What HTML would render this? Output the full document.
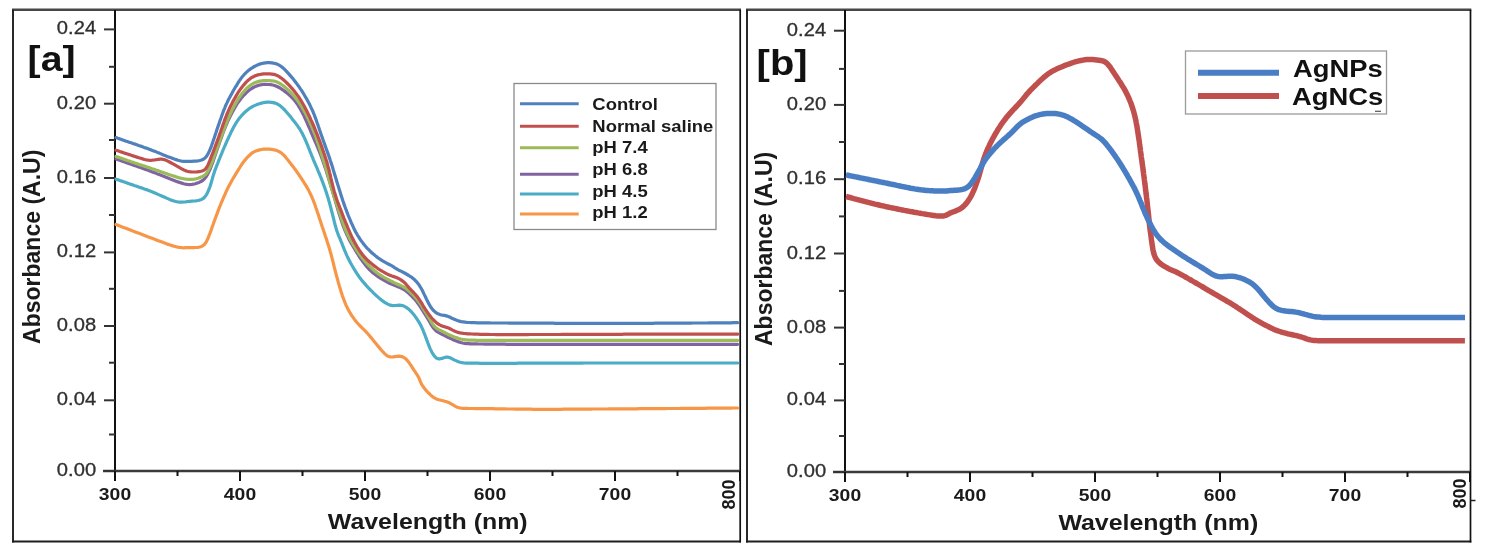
<!DOCTYPE html><html><head><meta charset="utf-8"><style>html,body{margin:0;padding:0;background:#fff;}svg{display:block;filter:blur(0.35px);}text{font-family:"Liberation Sans", sans-serif;}</style></head><body>
<svg width="1485" height="556" viewBox="0 0 1485 556">
<rect x="0" y="0" width="1485" height="556" fill="#fff"/>
<line x1="12.0" y1="9.7" x2="741.0" y2="9.7" stroke="#474747" stroke-width="2.4"/>
<line x1="12.0" y1="541.5" x2="741.0" y2="541.5" stroke="#1e1e1e" stroke-width="2"/>
<line x1="13.0" y1="9.7" x2="13.0" y2="542.5" stroke="#1e1e1e" stroke-width="1.9"/>
<line x1="740.2" y1="9.7" x2="740.2" y2="542.5" stroke="#111" stroke-width="1.7"/>
<line x1="746.0" y1="9.7" x2="1471.3" y2="9.7" stroke="#474747" stroke-width="2.4"/>
<line x1="746.0" y1="541.5" x2="1471.3" y2="541.5" stroke="#1e1e1e" stroke-width="2"/>
<line x1="747.0" y1="9.7" x2="747.0" y2="542.5" stroke="#1e1e1e" stroke-width="1.9"/>
<line x1="1470.5" y1="9.7" x2="1470.5" y2="542.5" stroke="#111" stroke-width="1.7"/>
<line x1="115.0" y1="10" x2="115.0" y2="481.0" stroke="#111" stroke-width="2"/>
<line x1="103.0" y1="471.0" x2="740.0" y2="471.0" stroke="#3a3a3a" stroke-width="2.3"/>
<line x1="104.0" y1="471.0" x2="115.0" y2="471.0" stroke="#333" stroke-width="2"/>
<text transform="translate(96.10 476.00) scale(1.120 1.000)" font-size="18.00" fill="#303030" text-anchor="end" stroke="#303030" stroke-width="0.30">0.00</text>
<line x1="109.0" y1="434.5" x2="115.0" y2="434.5" stroke="#333" stroke-width="2"/>
<line x1="104.0" y1="400.3" x2="115.0" y2="400.3" stroke="#333" stroke-width="2"/>
<text transform="translate(96.10 405.30) scale(1.120 1.000)" font-size="18.00" fill="#303030" text-anchor="end" stroke="#303030" stroke-width="0.30">0.04</text>
<line x1="109.0" y1="362.7" x2="115.0" y2="362.7" stroke="#333" stroke-width="2"/>
<line x1="104.0" y1="326.0" x2="115.0" y2="326.0" stroke="#333" stroke-width="2"/>
<text transform="translate(96.10 331.00) scale(1.120 1.000)" font-size="18.00" fill="#303030" text-anchor="end" stroke="#303030" stroke-width="0.30">0.08</text>
<line x1="109.0" y1="288.8" x2="115.0" y2="288.8" stroke="#333" stroke-width="2"/>
<line x1="104.0" y1="252.4" x2="115.0" y2="252.4" stroke="#333" stroke-width="2"/>
<text transform="translate(96.10 257.40) scale(1.120 1.000)" font-size="18.00" fill="#303030" text-anchor="end" stroke="#303030" stroke-width="0.30">0.12</text>
<line x1="109.0" y1="215.0" x2="115.0" y2="215.0" stroke="#333" stroke-width="2"/>
<line x1="104.0" y1="178.0" x2="115.0" y2="178.0" stroke="#333" stroke-width="2"/>
<text transform="translate(96.10 183.00) scale(1.120 1.000)" font-size="18.00" fill="#303030" text-anchor="end" stroke="#303030" stroke-width="0.30">0.16</text>
<line x1="109.0" y1="140.0" x2="115.0" y2="140.0" stroke="#333" stroke-width="2"/>
<line x1="104.0" y1="103.7" x2="115.0" y2="103.7" stroke="#333" stroke-width="2"/>
<text transform="translate(96.10 108.70) scale(1.120 1.000)" font-size="18.00" fill="#303030" text-anchor="end" stroke="#303030" stroke-width="0.30">0.20</text>
<line x1="109.0" y1="66.8" x2="115.0" y2="66.8" stroke="#333" stroke-width="2"/>
<line x1="104.0" y1="29.4" x2="115.0" y2="29.4" stroke="#333" stroke-width="2"/>
<text transform="translate(96.10 34.40) scale(1.120 1.000)" font-size="18.00" fill="#303030" text-anchor="end" stroke="#303030" stroke-width="0.30">0.24</text>
<line x1="115.0" y1="471.0" x2="115.0" y2="481.0" stroke="#111" stroke-width="2"/>
<line x1="177.5" y1="471.0" x2="177.5" y2="476.0" stroke="#111" stroke-width="2"/>
<line x1="240.0" y1="471.0" x2="240.0" y2="481.0" stroke="#111" stroke-width="2"/>
<line x1="302.5" y1="471.0" x2="302.5" y2="476.0" stroke="#111" stroke-width="2"/>
<line x1="365.0" y1="471.0" x2="365.0" y2="481.0" stroke="#111" stroke-width="2"/>
<line x1="427.5" y1="471.0" x2="427.5" y2="476.0" stroke="#111" stroke-width="2"/>
<line x1="490.0" y1="471.0" x2="490.0" y2="481.0" stroke="#111" stroke-width="2"/>
<line x1="552.5" y1="471.0" x2="552.5" y2="476.0" stroke="#111" stroke-width="2"/>
<line x1="615.0" y1="471.0" x2="615.0" y2="481.0" stroke="#111" stroke-width="2"/>
<line x1="677.5" y1="471.0" x2="677.5" y2="476.0" stroke="#111" stroke-width="2"/>
<line x1="740.0" y1="471.0" x2="740.0" y2="481.0" stroke="#111" stroke-width="2"/>
<line x1="845.0" y1="10" x2="845.0" y2="482.0" stroke="#111" stroke-width="2"/>
<line x1="833.0" y1="472.0" x2="1470.0" y2="472.0" stroke="#3a3a3a" stroke-width="2.3"/>
<line x1="834.0" y1="472.0" x2="845.0" y2="472.0" stroke="#333" stroke-width="2"/>
<text transform="translate(826.10 477.00) scale(1.120 1.000)" font-size="18.00" fill="#303030" text-anchor="end" stroke="#303030" stroke-width="0.30">0.00</text>
<line x1="839.0" y1="436.0" x2="845.0" y2="436.0" stroke="#333" stroke-width="2"/>
<line x1="834.0" y1="400.4" x2="845.0" y2="400.4" stroke="#333" stroke-width="2"/>
<text transform="translate(826.10 405.40) scale(1.120 1.000)" font-size="18.00" fill="#303030" text-anchor="end" stroke="#303030" stroke-width="0.30">0.04</text>
<line x1="839.0" y1="364.0" x2="845.0" y2="364.0" stroke="#333" stroke-width="2"/>
<line x1="834.0" y1="327.6" x2="845.0" y2="327.6" stroke="#333" stroke-width="2"/>
<text transform="translate(826.10 332.60) scale(1.120 1.000)" font-size="18.00" fill="#303030" text-anchor="end" stroke="#303030" stroke-width="0.30">0.08</text>
<line x1="839.0" y1="290.9" x2="845.0" y2="290.9" stroke="#333" stroke-width="2"/>
<line x1="834.0" y1="253.5" x2="845.0" y2="253.5" stroke="#333" stroke-width="2"/>
<text transform="translate(826.10 258.50) scale(1.120 1.000)" font-size="18.00" fill="#303030" text-anchor="end" stroke="#303030" stroke-width="0.30">0.12</text>
<line x1="839.0" y1="216.4" x2="845.0" y2="216.4" stroke="#333" stroke-width="2"/>
<line x1="834.0" y1="179.2" x2="845.0" y2="179.2" stroke="#333" stroke-width="2"/>
<text transform="translate(826.10 184.20) scale(1.120 1.000)" font-size="18.00" fill="#303030" text-anchor="end" stroke="#303030" stroke-width="0.30">0.16</text>
<line x1="839.0" y1="142.0" x2="845.0" y2="142.0" stroke="#333" stroke-width="2"/>
<line x1="834.0" y1="104.9" x2="845.0" y2="104.9" stroke="#333" stroke-width="2"/>
<text transform="translate(826.10 109.90) scale(1.120 1.000)" font-size="18.00" fill="#303030" text-anchor="end" stroke="#303030" stroke-width="0.30">0.20</text>
<line x1="839.0" y1="68.9" x2="845.0" y2="68.9" stroke="#333" stroke-width="2"/>
<line x1="834.0" y1="30.7" x2="845.0" y2="30.7" stroke="#333" stroke-width="2"/>
<text transform="translate(826.10 35.70) scale(1.120 1.000)" font-size="18.00" fill="#303030" text-anchor="end" stroke="#303030" stroke-width="0.30">0.24</text>
<line x1="845.0" y1="472.0" x2="845.0" y2="482.0" stroke="#111" stroke-width="2"/>
<line x1="907.5" y1="472.0" x2="907.5" y2="477.0" stroke="#111" stroke-width="2"/>
<line x1="970.0" y1="472.0" x2="970.0" y2="482.0" stroke="#111" stroke-width="2"/>
<line x1="1032.5" y1="472.0" x2="1032.5" y2="477.0" stroke="#111" stroke-width="2"/>
<line x1="1095.0" y1="472.0" x2="1095.0" y2="482.0" stroke="#111" stroke-width="2"/>
<line x1="1157.5" y1="472.0" x2="1157.5" y2="477.0" stroke="#111" stroke-width="2"/>
<line x1="1220.0" y1="472.0" x2="1220.0" y2="482.0" stroke="#111" stroke-width="2"/>
<line x1="1282.5" y1="472.0" x2="1282.5" y2="477.0" stroke="#111" stroke-width="2"/>
<line x1="1345.0" y1="472.0" x2="1345.0" y2="482.0" stroke="#111" stroke-width="2"/>
<line x1="1407.5" y1="472.0" x2="1407.5" y2="477.0" stroke="#111" stroke-width="2"/>
<line x1="1470.0" y1="472.0" x2="1470.0" y2="482.0" stroke="#111" stroke-width="2"/>
<text transform="translate(115.00 500.00) scale(1.210 1.000)" font-size="16.00" fill="#1a1a1a" font-weight="bold" text-anchor="middle">300</text>
<text transform="translate(240.00 500.00) scale(1.210 1.000)" font-size="16.00" fill="#1a1a1a" font-weight="bold" text-anchor="middle">400</text>
<text transform="translate(365.00 500.00) scale(1.210 1.000)" font-size="16.00" fill="#1a1a1a" font-weight="bold" text-anchor="middle">500</text>
<text transform="translate(490.00 500.00) scale(1.210 1.000)" font-size="16.00" fill="#1a1a1a" font-weight="bold" text-anchor="middle">600</text>
<text transform="translate(615.00 500.00) scale(1.210 1.000)" font-size="16.00" fill="#1a1a1a" font-weight="bold" text-anchor="middle">700</text>
<text transform="translate(845.00 501.00) scale(1.210 1.000)" font-size="16.00" fill="#1a1a1a" font-weight="bold" text-anchor="middle">300</text>
<text transform="translate(970.00 501.00) scale(1.210 1.000)" font-size="16.00" fill="#1a1a1a" font-weight="bold" text-anchor="middle">400</text>
<text transform="translate(1095.00 501.00) scale(1.210 1.000)" font-size="16.00" fill="#1a1a1a" font-weight="bold" text-anchor="middle">500</text>
<text transform="translate(1220.00 501.00) scale(1.210 1.000)" font-size="16.00" fill="#1a1a1a" font-weight="bold" text-anchor="middle">600</text>
<text transform="translate(1345.00 501.00) scale(1.210 1.000)" font-size="16.00" fill="#1a1a1a" font-weight="bold" text-anchor="middle">700</text>
<text transform="translate(735 509.5) rotate(-90)" font-size="18" font-weight="bold" fill="#1a1a1a" letter-spacing="0">800</text>
<text transform="translate(1466 508.5) rotate(-90)" font-size="18" font-weight="bold" fill="#1a1a1a" letter-spacing="0">800</text>
<text transform="translate(427.70 529.00) scale(1.160 1.000)" font-size="21.50" fill="#1a1a1a" font-weight="bold" text-anchor="middle">Wavelength (nm)</text>
<text transform="translate(1158.30 530.00) scale(1.160 1.000)" font-size="21.50" fill="#1a1a1a" font-weight="bold" text-anchor="middle">Wavelength (nm)</text>
<text transform="translate(39.80 246.80) rotate(-90)" font-size="23.00" fill="#1a1a1a" font-weight="bold" text-anchor="middle">Absorbance (A.U)</text>
<text transform="translate(771.50 248.90) rotate(-90)" font-size="23.00" fill="#1a1a1a" font-weight="bold" text-anchor="middle">Absorbance (A.U)</text>
<text transform="translate(27.60 71.00) scale(1.120 1.000)" font-size="35.00" fill="#111" font-weight="bold">[a]</text>
<text transform="translate(756.60 75.00) scale(1.140 1.000)" font-size="35.00" fill="#111" font-weight="bold">[b]</text>
<path d="M116.0 224.5 L117.9 225.2 L119.7 225.9 L121.6 226.7 L123.5 227.4 L125.3 228.1 L127.2 228.8 L129.1 229.5 L130.9 230.2 L132.8 231.0 L134.7 231.7 L136.5 232.4 L138.4 233.1 L140.3 233.8 L142.1 234.5 L144.0 235.2 L145.9 236.0 L147.8 236.7 L149.6 237.4 L151.5 238.1 L153.4 238.8 L155.2 239.5 L157.1 240.2 L159.0 240.9 L160.8 241.6 L162.7 242.3 L164.6 243.0 L166.5 243.7 L168.3 244.4 L170.2 245.0 L172.1 245.6 L174.1 246.2 L176.0 246.7 L177.9 247.2 L179.9 247.5 L181.9 247.7 L183.9 247.8 L185.9 247.7 L187.9 247.7 L189.9 247.6 L191.9 247.6 L193.9 247.6 L195.9 247.5 L197.9 247.3 L199.8 247.0 L201.6 246.4 L203.3 245.4 L204.7 244.1 L205.9 242.6 L206.8 240.8 L207.7 239.0 L208.5 237.2 L209.2 235.3 L209.9 233.5 L210.6 231.6 L211.3 229.7 L211.9 227.8 L212.6 225.9 L213.3 224.0 L213.9 222.2 L214.6 220.3 L215.3 218.4 L216.0 216.5 L216.7 214.6 L217.4 212.8 L218.1 210.9 L218.8 209.0 L219.5 207.2 L220.3 205.3 L221.0 203.5 L221.8 201.6 L222.6 199.8 L223.4 197.9 L224.2 196.1 L225.0 194.3 L225.8 192.4 L226.6 190.6 L227.5 188.8 L228.4 187.0 L229.3 185.3 L230.3 183.5 L231.2 181.7 L232.2 180.0 L233.2 178.3 L234.2 176.6 L235.3 174.8 L236.3 173.1 L237.4 171.4 L238.4 169.7 L239.5 168.0 L240.5 166.3 L241.6 164.6 L242.7 163.0 L243.9 161.4 L245.2 159.9 L246.5 158.3 L247.8 156.9 L249.3 155.5 L250.7 154.1 L252.3 152.9 L254.0 151.9 L255.8 151.1 L257.7 150.4 L259.6 149.9 L261.5 149.5 L263.5 149.2 L265.5 149.1 L267.5 149.1 L269.5 149.2 L271.5 149.4 L273.4 149.7 L275.4 150.1 L277.3 150.8 L279.1 151.6 L280.8 152.6 L282.3 153.8 L283.8 155.2 L285.1 156.6 L286.4 158.2 L287.7 159.7 L288.9 161.3 L290.2 162.9 L291.4 164.5 L292.6 166.0 L293.8 167.6 L295.0 169.2 L296.2 170.9 L297.3 172.5 L298.5 174.1 L299.6 175.8 L300.7 177.5 L301.8 179.1 L302.9 180.8 L304.0 182.5 L305.0 184.2 L306.1 185.9 L307.1 187.6 L308.1 189.3 L309.0 191.1 L309.9 192.9 L310.8 194.7 L311.6 196.5 L312.4 198.3 L313.2 200.2 L313.9 202.1 L314.6 203.9 L315.3 205.8 L315.9 207.7 L316.6 209.6 L317.2 211.5 L317.9 213.4 L318.5 215.3 L319.1 217.2 L319.7 219.1 L320.4 221.0 L321.0 222.9 L321.6 224.8 L322.2 226.7 L322.9 228.6 L323.5 230.5 L324.2 232.4 L324.8 234.3 L325.4 236.2 L326.1 238.1 L326.7 240.0 L327.3 241.9 L327.9 243.8 L328.5 245.7 L329.1 247.6 L329.7 249.5 L330.2 251.4 L330.8 253.3 L331.3 255.3 L331.8 257.2 L332.3 259.1 L332.8 261.1 L333.3 263.0 L333.8 265.0 L334.2 266.9 L334.7 268.8 L335.2 270.8 L335.7 272.7 L336.2 274.7 L336.7 276.6 L337.3 278.5 L337.8 280.4 L338.3 282.4 L338.9 284.3 L339.4 286.2 L340.0 288.1 L340.6 290.0 L341.2 292.0 L341.8 293.9 L342.4 295.8 L343.1 297.6 L343.8 299.5 L344.5 301.4 L345.2 303.2 L346.0 305.1 L346.9 306.9 L347.8 308.7 L348.7 310.4 L349.7 312.2 L350.7 313.9 L351.8 315.6 L352.9 317.2 L354.1 318.9 L355.3 320.5 L356.5 322.0 L357.8 323.5 L359.2 325.0 L360.6 326.4 L362.0 327.8 L363.4 329.2 L364.9 330.6 L366.3 332.1 L367.6 333.5 L368.9 335.0 L370.2 336.6 L371.5 338.1 L372.8 339.7 L374.0 341.2 L375.3 342.8 L376.5 344.3 L377.8 345.9 L379.1 347.4 L380.4 348.9 L381.7 350.5 L383.0 351.9 L384.4 353.4 L385.8 354.7 L387.4 355.9 L389.2 356.6 L391.0 357.0 L393.0 356.9 L394.9 356.6 L396.9 356.3 L398.8 356.2 L400.8 356.4 L402.7 356.9 L404.4 357.8 L405.9 359.0 L407.3 360.4 L408.5 361.9 L409.7 363.6 L410.8 365.2 L411.9 366.9 L413.0 368.6 L414.1 370.3 L415.2 371.9 L416.3 373.6 L417.4 375.2 L418.4 377.0 L419.3 378.8 L420.0 380.6 L420.7 382.4 L421.6 384.2 L422.6 385.9 L423.8 387.5 L425.0 389.1 L426.3 390.6 L427.7 392.1 L429.1 393.5 L430.5 394.9 L432.0 396.2 L433.6 397.4 L435.3 398.4 L437.1 399.2 L439.0 399.8 L440.9 400.3 L442.9 400.7 L444.8 401.2 L446.7 401.8 L448.6 402.5 L450.3 403.4 L452.1 404.4 L453.8 405.4 L455.5 406.4 L457.3 407.2 L459.2 407.7 L461.2 408.1 L463.1 408.3 L465.1 408.4 L467.1 408.4 L469.1 408.5 L471.1 408.5 L473.1 408.5 L475.1 408.6 L477.1 408.6 L479.1 408.6 L481.1 408.6 L483.1 408.6 L485.1 408.6 L487.1 408.7 L489.1 408.7 L491.1 408.7 L493.1 408.7 L495.1 408.8 L497.1 408.8 L499.1 408.8 L501.1 408.9 L503.1 408.9 L505.1 408.9 L507.1 409.0 L509.1 409.0 L511.1 409.0 L513.1 409.0 L515.1 409.1 L517.1 409.1 L519.1 409.1 L521.1 409.2 L523.1 409.2 L525.1 409.2 L527.1 409.2 L529.1 409.2 L531.1 409.2 L533.1 409.3 L535.1 409.3 L537.1 409.3 L539.1 409.3 L541.1 409.3 L543.1 409.3 L545.1 409.3 L547.1 409.3 L549.1 409.3 L551.1 409.3 L553.1 409.3 L555.1 409.3 L557.1 409.3 L559.1 409.3 L561.1 409.3 L563.1 409.2 L565.1 409.2 L567.1 409.2 L569.1 409.2 L571.1 409.2 L573.1 409.2 L575.1 409.2 L577.1 409.2 L579.1 409.1 L581.1 409.1 L583.1 409.1 L585.1 409.1 L587.1 409.1 L589.1 409.1 L591.1 409.1 L593.1 409.0 L595.1 409.0 L597.1 409.0 L599.1 409.0 L601.1 409.0 L603.1 409.0 L605.1 409.0 L607.1 409.0 L609.1 408.9 L611.1 408.9 L613.1 408.9 L615.1 408.9 L617.1 408.9 L619.1 408.9 L621.1 408.9 L623.1 408.9 L625.1 408.8 L627.1 408.8 L629.1 408.8 L631.1 408.8 L633.1 408.8 L635.1 408.8 L637.1 408.8 L639.1 408.7 L641.1 408.7 L643.1 408.7 L645.1 408.7 L647.1 408.7 L649.1 408.7 L651.1 408.7 L653.1 408.6 L655.1 408.6 L657.1 408.6 L659.1 408.6 L661.1 408.6 L663.1 408.6 L665.1 408.6 L667.1 408.5 L669.1 408.5 L671.1 408.5 L673.1 408.5 L675.1 408.5 L677.1 408.5 L679.1 408.5 L681.1 408.4 L683.1 408.4 L685.1 408.4 L687.1 408.4 L689.1 408.4 L691.1 408.4 L693.1 408.3 L695.1 408.3 L697.1 408.3 L699.1 408.3 L701.1 408.3 L703.1 408.3 L705.1 408.3 L707.1 408.2 L709.1 408.2 L711.1 408.2 L713.1 408.2 L715.1 408.2 L717.1 408.2 L719.1 408.1 L721.1 408.1 L723.1 408.1 L725.1 408.1 L727.1 408.1 L729.1 408.1 L731.1 408.1 L733.1 408.0 L735.1 408.0 L737.1 408.0 L737.6 408.0" fill="none" stroke="#F79646" stroke-width="3.2" stroke-linejoin="round" stroke-linecap="round"/>
<path d="M116.0 179.2 L117.9 179.8 L119.8 180.5 L121.7 181.1 L123.6 181.8 L125.5 182.4 L127.4 183.1 L129.3 183.7 L131.1 184.4 L133.0 185.0 L134.9 185.7 L136.8 186.3 L138.7 187.0 L140.6 187.6 L142.5 188.3 L144.4 189.0 L146.3 189.6 L148.1 190.3 L150.0 191.0 L151.9 191.7 L153.7 192.5 L155.6 193.3 L157.4 194.1 L159.2 194.9 L161.1 195.7 L162.9 196.5 L164.7 197.3 L166.5 198.1 L168.4 198.9 L170.2 199.7 L172.1 200.4 L174.0 201.0 L175.9 201.5 L177.9 201.9 L179.9 202.1 L181.8 202.1 L183.8 202.0 L185.8 201.8 L187.8 201.5 L189.8 201.3 L191.8 201.1 L193.8 201.0 L195.8 200.8 L197.7 200.5 L199.7 200.1 L201.5 199.4 L203.2 198.5 L204.6 197.2 L205.8 195.6 L206.9 193.9 L207.7 192.2 L208.5 190.3 L209.3 188.5 L210.0 186.6 L210.6 184.7 L211.2 182.8 L211.7 180.9 L212.3 178.9 L212.8 177.0 L213.4 175.1 L214.0 173.2 L214.6 171.3 L215.3 169.4 L216.0 167.6 L216.7 165.7 L217.5 163.8 L218.2 162.0 L218.9 160.1 L219.7 158.3 L220.4 156.4 L221.2 154.6 L222.0 152.7 L222.7 150.9 L223.5 149.0 L224.3 147.2 L225.1 145.3 L225.9 143.5 L226.7 141.7 L227.5 139.9 L228.4 138.0 L229.2 136.2 L230.1 134.4 L230.9 132.6 L231.8 130.8 L232.7 129.0 L233.6 127.3 L234.6 125.5 L235.6 123.8 L236.6 122.1 L237.8 120.4 L238.9 118.8 L240.2 117.2 L241.5 115.7 L242.8 114.3 L244.2 112.8 L245.7 111.5 L247.2 110.2 L248.8 108.9 L250.4 107.8 L252.1 106.8 L253.9 105.9 L255.7 105.1 L257.6 104.3 L259.5 103.7 L261.4 103.1 L263.3 102.7 L265.3 102.4 L267.3 102.2 L269.3 102.2 L271.3 102.3 L273.2 102.6 L275.1 103.1 L277.0 103.8 L278.7 104.8 L280.3 105.9 L281.8 107.2 L283.3 108.6 L284.7 110.0 L286.0 111.5 L287.3 113.0 L288.6 114.5 L289.9 116.0 L291.2 117.6 L292.4 119.2 L293.6 120.7 L294.9 122.3 L296.1 123.9 L297.3 125.5 L298.4 127.2 L299.6 128.8 L300.6 130.5 L301.6 132.2 L302.6 134.0 L303.4 135.8 L304.3 137.6 L305.1 139.4 L305.9 141.2 L306.7 143.1 L307.5 144.9 L308.2 146.8 L309.0 148.6 L309.7 150.5 L310.4 152.4 L311.2 154.2 L311.9 156.1 L312.7 157.9 L313.4 159.8 L314.2 161.6 L315.0 163.5 L315.8 165.3 L316.6 167.1 L317.4 169.0 L318.1 170.8 L318.9 172.7 L319.7 174.5 L320.4 176.4 L321.2 178.2 L321.9 180.1 L322.6 182.0 L323.3 183.8 L324.0 185.7 L324.7 187.6 L325.3 189.5 L326.0 191.4 L326.6 193.3 L327.2 195.2 L327.8 197.1 L328.4 199.0 L328.9 200.9 L329.5 202.8 L330.0 204.8 L330.5 206.7 L331.0 208.6 L331.5 210.6 L332.0 212.5 L332.5 214.4 L333.0 216.4 L333.5 218.3 L334.0 220.3 L334.4 222.2 L334.9 224.2 L335.4 226.1 L336.0 228.0 L336.5 229.9 L337.2 231.8 L337.9 233.7 L338.6 235.6 L339.4 237.4 L340.2 239.2 L340.9 241.1 L341.7 242.9 L342.4 244.8 L343.1 246.7 L343.9 248.5 L344.6 250.4 L345.4 252.2 L346.2 254.1 L347.0 255.9 L347.9 257.7 L348.8 259.5 L349.7 261.2 L350.6 263.0 L351.6 264.8 L352.6 266.5 L353.6 268.2 L354.6 269.9 L355.7 271.6 L356.8 273.3 L357.9 275.0 L359.0 276.6 L360.2 278.2 L361.4 279.8 L362.7 281.4 L364.0 282.9 L365.3 284.4 L366.6 285.9 L368.0 287.4 L369.4 288.8 L370.7 290.2 L372.2 291.7 L373.6 293.1 L375.0 294.4 L376.5 295.8 L378.0 297.1 L379.5 298.4 L381.1 299.7 L382.6 300.9 L384.3 302.1 L386.0 303.1 L387.7 304.1 L389.5 304.9 L391.4 305.4 L393.3 305.6 L395.3 305.5 L397.3 305.3 L399.2 305.2 L401.2 305.4 L403.1 305.8 L404.9 306.6 L406.6 307.6 L408.2 308.8 L409.7 310.1 L411.1 311.5 L412.4 313.0 L413.7 314.6 L414.9 316.1 L416.1 317.7 L417.2 319.4 L418.3 321.1 L419.4 322.8 L420.3 324.5 L421.2 326.3 L422.1 328.1 L422.9 329.9 L423.6 331.8 L424.4 333.7 L425.1 335.5 L425.8 337.4 L426.5 339.3 L427.2 341.1 L427.9 343.0 L428.6 344.9 L429.3 346.7 L430.1 348.6 L431.0 350.4 L431.9 352.2 L432.9 353.9 L434.0 355.5 L435.2 357.0 L436.7 358.2 L438.3 358.8 L440.2 358.8 L442.0 358.4 L443.8 357.7 L445.7 357.2 L447.6 357.1 L449.4 357.5 L451.2 358.3 L452.9 359.2 L454.7 360.1 L456.5 360.9 L458.4 361.7 L460.3 362.3 L462.2 362.7 L464.2 363.0 L466.2 363.1 L468.2 363.2 L470.2 363.2 L472.2 363.2 L474.2 363.2 L476.2 363.2 L478.2 363.2 L480.2 363.3 L482.2 363.3 L484.2 363.3 L486.2 363.3 L488.2 363.3 L490.2 363.3 L492.2 363.3 L494.2 363.3 L496.2 363.3 L498.2 363.3 L500.2 363.3 L502.2 363.3 L504.2 363.3 L506.2 363.3 L508.2 363.3 L510.2 363.3 L512.2 363.3 L514.2 363.3 L516.2 363.3 L518.2 363.2 L520.2 363.2 L522.2 363.2 L524.2 363.2 L526.2 363.2 L528.2 363.2 L530.2 363.2 L532.2 363.2 L534.2 363.2 L536.2 363.2 L538.2 363.2 L540.2 363.2 L542.2 363.2 L544.2 363.2 L546.2 363.1 L548.2 363.1 L550.2 363.1 L552.2 363.1 L554.2 363.1 L556.2 363.1 L558.2 363.1 L560.2 363.1 L562.2 363.1 L564.2 363.1 L566.2 363.1 L568.2 363.1 L570.2 363.1 L572.2 363.1 L574.2 363.1 L576.2 363.1 L578.2 363.1 L580.2 363.1 L582.2 363.1 L584.2 363.0 L586.2 363.0 L588.2 363.0 L590.2 363.0 L592.2 363.0 L594.2 363.0 L596.2 363.0 L598.2 363.0 L600.2 363.0 L602.2 363.0 L604.2 363.0 L606.2 363.0 L608.2 363.0 L610.2 363.0 L612.2 363.0 L614.2 363.0 L616.2 363.0 L618.2 363.0 L620.2 363.0 L622.2 363.0 L624.2 363.0 L626.2 363.0 L628.2 363.0 L630.2 363.0 L632.2 363.0 L634.2 363.0 L636.2 363.0 L638.2 363.0 L640.2 363.0 L642.2 363.0 L644.2 363.0 L646.2 363.0 L648.2 363.0 L650.2 363.0 L652.2 363.0 L654.2 363.0 L656.2 363.0 L658.2 363.0 L660.2 363.0 L662.2 363.0 L664.2 363.0 L666.2 363.0 L668.2 363.0 L670.2 363.0 L672.2 363.0 L674.2 363.0 L676.2 363.0 L678.2 363.0 L680.2 363.0 L682.2 363.0 L684.2 363.0 L686.2 363.0 L688.2 363.0 L690.2 363.0 L692.2 363.0 L694.2 363.0 L696.2 363.0 L698.2 363.0 L700.2 363.0 L702.2 363.0 L704.2 363.0 L706.2 363.0 L708.2 363.0 L710.2 363.0 L712.2 363.0 L714.2 363.0 L716.2 363.0 L718.2 363.0 L720.2 363.0 L722.2 363.0 L724.2 363.0 L726.2 363.0 L728.2 363.0 L730.2 363.0 L732.2 363.0 L734.2 363.0 L736.2 363.0 L737.7 363.0" fill="none" stroke="#4BACC6" stroke-width="3.2" stroke-linejoin="round" stroke-linecap="round"/>
<path d="M116.0 159.0 L117.9 159.7 L119.8 160.3 L121.7 161.0 L123.6 161.6 L125.4 162.3 L127.3 163.0 L129.2 163.6 L131.1 164.3 L133.0 165.0 L134.9 165.6 L136.8 166.3 L138.6 166.9 L140.5 167.6 L142.4 168.3 L144.3 169.0 L146.2 169.6 L148.1 170.3 L149.9 171.0 L151.8 171.7 L153.7 172.4 L155.6 173.1 L157.4 173.9 L159.3 174.6 L161.1 175.3 L163.0 176.1 L164.8 176.8 L166.7 177.6 L168.5 178.3 L170.4 179.1 L172.3 179.8 L174.1 180.5 L176.0 181.2 L177.9 181.9 L179.8 182.5 L181.7 183.1 L183.6 183.7 L185.6 184.1 L187.5 184.4 L189.5 184.6 L191.5 184.5 L193.4 184.2 L195.4 183.8 L197.3 183.1 L199.1 182.4 L200.9 181.5 L202.6 180.5 L204.1 179.3 L205.3 177.8 L206.5 176.2 L207.5 174.4 L208.4 172.7 L209.3 170.9 L210.1 169.1 L210.9 167.2 L211.6 165.3 L212.3 163.5 L213.0 161.6 L213.6 159.7 L214.3 157.8 L214.9 155.9 L215.6 154.0 L216.2 152.1 L216.9 150.2 L217.5 148.3 L218.2 146.5 L218.9 144.6 L219.5 142.7 L220.2 140.8 L220.9 138.9 L221.6 137.0 L222.2 135.2 L222.9 133.3 L223.6 131.4 L224.3 129.5 L225.1 127.7 L225.8 125.8 L226.6 124.0 L227.4 122.2 L228.2 120.3 L229.1 118.5 L230.0 116.7 L230.9 114.9 L231.8 113.2 L232.7 111.4 L233.7 109.6 L234.7 107.9 L235.7 106.2 L236.7 104.5 L237.8 102.8 L239.0 101.2 L240.2 99.6 L241.4 98.0 L242.7 96.5 L244.1 95.0 L245.5 93.6 L246.9 92.2 L248.4 90.9 L249.9 89.6 L251.6 88.5 L253.3 87.5 L255.1 86.6 L256.9 85.9 L258.8 85.3 L260.8 84.8 L262.7 84.5 L264.7 84.4 L266.7 84.4 L268.7 84.5 L270.7 84.7 L272.7 85.0 L274.6 85.5 L276.4 86.2 L278.2 87.0 L280.0 88.0 L281.7 89.1 L283.3 90.2 L284.9 91.4 L286.5 92.6 L288.0 93.9 L289.5 95.2 L291.0 96.6 L292.4 98.0 L293.7 99.5 L295.0 101.0 L296.2 102.6 L297.4 104.2 L298.5 105.9 L299.5 107.6 L300.5 109.3 L301.5 111.1 L302.4 112.9 L303.3 114.6 L304.2 116.4 L305.0 118.3 L305.9 120.1 L306.7 121.9 L307.5 123.7 L308.3 125.6 L309.1 127.4 L309.9 129.2 L310.7 131.1 L311.4 132.9 L312.2 134.7 L313.0 136.6 L313.8 138.4 L314.6 140.3 L315.4 142.1 L316.2 143.9 L317.0 145.8 L317.8 147.6 L318.5 149.5 L319.3 151.3 L320.0 153.2 L320.7 155.0 L321.4 156.9 L322.1 158.8 L322.8 160.7 L323.4 162.6 L324.1 164.5 L324.7 166.4 L325.4 168.2 L326.0 170.1 L326.6 172.1 L327.2 174.0 L327.8 175.9 L328.4 177.8 L329.0 179.7 L329.6 181.6 L330.2 183.5 L330.7 185.4 L331.3 187.3 L331.9 189.3 L332.5 191.2 L333.0 193.1 L333.6 195.0 L334.1 196.9 L334.7 198.9 L335.3 200.8 L335.8 202.7 L336.4 204.6 L337.0 206.5 L337.5 208.4 L338.1 210.4 L338.7 212.3 L339.3 214.2 L339.9 216.1 L340.5 218.0 L341.2 219.9 L341.8 221.8 L342.4 223.7 L343.1 225.6 L343.8 227.4 L344.5 229.3 L345.3 231.1 L346.1 233.0 L346.9 234.8 L347.8 236.6 L348.6 238.4 L349.5 240.2 L350.5 242.0 L351.4 243.7 L352.5 245.4 L353.5 247.1 L354.5 248.8 L355.6 250.6 L356.6 252.3 L357.7 254.0 L358.7 255.6 L359.8 257.3 L360.9 259.0 L362.1 260.6 L363.3 262.2 L364.5 263.8 L365.7 265.4 L367.0 266.9 L368.4 268.4 L369.7 269.9 L371.2 271.2 L372.6 272.6 L374.2 273.8 L375.8 275.0 L377.4 276.2 L379.1 277.3 L380.8 278.4 L382.5 279.4 L384.2 280.4 L386.0 281.4 L387.7 282.3 L389.5 283.2 L391.3 284.1 L393.2 284.8 L395.0 285.6 L396.9 286.4 L398.7 287.1 L400.6 287.9 L402.4 288.8 L404.1 289.7 L405.7 290.8 L407.3 292.1 L408.8 293.4 L410.3 294.8 L411.7 296.1 L413.1 297.6 L414.5 299.0 L415.8 300.5 L417.0 302.1 L418.2 303.7 L419.3 305.4 L420.5 307.0 L421.5 308.7 L422.6 310.4 L423.7 312.1 L424.7 313.8 L425.8 315.5 L426.8 317.2 L427.9 318.9 L428.9 320.6 L429.9 322.3 L430.9 324.1 L431.9 325.8 L433.0 327.4 L434.3 329.0 L435.6 330.4 L437.2 331.6 L438.9 332.6 L440.7 333.6 L442.4 334.5 L444.2 335.4 L446.0 336.3 L447.8 337.2 L449.6 338.0 L451.4 338.9 L453.2 339.7 L455.1 340.5 L456.9 341.2 L458.8 341.9 L460.7 342.5 L462.6 343.0 L464.6 343.3 L466.6 343.6 L468.6 343.7 L470.6 343.8 L472.6 343.9 L474.6 343.9 L476.6 343.9 L478.6 344.0 L480.6 344.0 L482.6 344.0 L484.6 344.1 L486.6 344.1 L488.6 344.1 L490.6 344.1 L492.6 344.2 L494.6 344.2 L496.6 344.2 L498.6 344.2 L500.6 344.2 L502.6 344.2 L504.6 344.2 L506.6 344.3 L508.6 344.3 L510.6 344.3 L512.6 344.3 L514.6 344.3 L516.6 344.3 L518.6 344.3 L520.6 344.3 L522.6 344.3 L524.6 344.3 L526.6 344.3 L528.6 344.3 L530.6 344.3 L532.6 344.3 L534.6 344.3 L536.6 344.3 L538.6 344.3 L540.6 344.3 L542.6 344.3 L544.6 344.3 L546.6 344.3 L548.6 344.3 L550.6 344.3 L552.6 344.3 L554.6 344.3 L556.6 344.3 L558.6 344.3 L560.6 344.3 L562.6 344.3 L564.6 344.3 L566.6 344.3 L568.6 344.3 L570.6 344.3 L572.6 344.3 L574.6 344.3 L576.6 344.3 L578.6 344.3 L580.6 344.3 L582.6 344.3 L584.6 344.3 L586.6 344.3 L588.6 344.3 L590.6 344.3 L592.6 344.3 L594.6 344.3 L596.6 344.3 L598.6 344.3 L600.6 344.3 L602.6 344.3 L604.6 344.3 L606.6 344.3 L608.6 344.3 L610.6 344.3 L612.6 344.3 L614.6 344.3 L616.6 344.3 L618.6 344.3 L620.6 344.3 L622.6 344.3 L624.6 344.3 L626.6 344.3 L628.6 344.3 L630.6 344.3 L632.6 344.3 L634.6 344.3 L636.6 344.3 L638.6 344.3 L640.6 344.3 L642.6 344.3 L644.6 344.3 L646.6 344.3 L648.6 344.3 L650.6 344.3 L652.6 344.3 L654.6 344.3 L656.6 344.3 L658.6 344.3 L660.6 344.3 L662.6 344.3 L664.6 344.3 L666.6 344.3 L668.6 344.3 L670.6 344.3 L672.6 344.3 L674.6 344.3 L676.6 344.3 L678.6 344.3 L680.6 344.3 L682.6 344.3 L684.6 344.3 L686.6 344.3 L688.6 344.3 L690.6 344.3 L692.6 344.3 L694.6 344.3 L696.6 344.3 L698.6 344.3 L700.6 344.3 L702.6 344.3 L704.6 344.3 L706.6 344.3 L708.6 344.3 L710.6 344.3 L712.6 344.3 L714.6 344.3 L716.6 344.3 L718.6 344.3 L720.6 344.3 L722.6 344.3 L724.6 344.3 L726.6 344.3 L728.6 344.3 L730.6 344.3 L732.6 344.3 L734.6 344.3 L736.6 344.3 L737.6 344.3" fill="none" stroke="#8064A2" stroke-width="3.2" stroke-linejoin="round" stroke-linecap="round"/>
<path d="M116.0 156.5 L117.9 157.1 L119.8 157.8 L121.7 158.4 L123.6 159.1 L125.5 159.7 L127.4 160.4 L129.2 161.0 L131.1 161.7 L133.0 162.3 L134.9 163.0 L136.8 163.6 L138.7 164.2 L140.6 164.9 L142.5 165.5 L144.4 166.1 L146.3 166.8 L148.2 167.4 L150.1 168.0 L152.0 168.7 L153.9 169.3 L155.8 170.0 L157.7 170.6 L159.6 171.3 L161.4 171.9 L163.3 172.6 L165.2 173.3 L167.1 173.9 L169.0 174.6 L170.9 175.2 L172.8 175.8 L174.7 176.4 L176.6 177.0 L178.5 177.6 L180.5 178.1 L182.4 178.5 L184.4 178.9 L186.4 179.2 L188.3 179.4 L190.3 179.4 L192.3 179.3 L194.3 179.1 L196.2 178.7 L198.2 178.2 L200.0 177.5 L201.9 176.8 L203.6 175.9 L205.2 174.7 L206.5 173.3 L207.6 171.7 L208.5 169.9 L209.4 168.1 L210.3 166.3 L211.0 164.5 L211.8 162.6 L212.5 160.8 L213.2 158.9 L213.9 157.0 L214.6 155.1 L215.3 153.2 L215.9 151.4 L216.6 149.5 L217.3 147.6 L218.0 145.7 L218.7 143.9 L219.4 142.0 L220.1 140.1 L220.7 138.2 L221.4 136.3 L222.1 134.5 L222.8 132.6 L223.5 130.7 L224.2 128.8 L224.9 126.9 L225.6 125.1 L226.3 123.2 L227.0 121.4 L227.8 119.5 L228.6 117.7 L229.4 115.8 L230.2 114.0 L231.1 112.2 L231.9 110.4 L232.8 108.6 L233.8 106.8 L234.7 105.1 L235.7 103.3 L236.7 101.6 L237.7 99.9 L238.8 98.2 L239.9 96.6 L241.1 94.9 L242.3 93.3 L243.6 91.8 L244.9 90.3 L246.2 88.8 L247.7 87.5 L249.2 86.2 L250.8 85.0 L252.5 83.9 L254.2 83.0 L256.1 82.2 L258.0 81.6 L259.9 81.1 L261.9 80.8 L263.8 80.6 L265.8 80.5 L267.8 80.5 L269.8 80.6 L271.8 80.8 L273.8 81.0 L275.7 81.5 L277.5 82.2 L279.3 83.1 L281.0 84.2 L282.6 85.3 L284.2 86.6 L285.7 87.8 L287.2 89.2 L288.7 90.5 L290.1 91.9 L291.5 93.4 L292.9 94.8 L294.2 96.3 L295.5 97.9 L296.7 99.4 L297.9 101.0 L299.1 102.6 L300.2 104.3 L301.3 106.0 L302.3 107.7 L303.3 109.4 L304.3 111.2 L305.3 112.9 L306.2 114.7 L307.1 116.5 L308.0 118.3 L308.8 120.1 L309.7 121.9 L310.5 123.7 L311.3 125.5 L312.1 127.4 L312.9 129.2 L313.6 131.1 L314.4 132.9 L315.1 134.8 L315.8 136.7 L316.4 138.6 L317.1 140.5 L317.7 142.4 L318.4 144.3 L319.0 146.2 L319.6 148.1 L320.2 150.0 L320.8 151.9 L321.4 153.8 L322.0 155.7 L322.6 157.6 L323.2 159.5 L323.8 161.4 L324.4 163.3 L325.0 165.2 L325.6 167.1 L326.1 169.1 L326.7 171.0 L327.3 172.9 L327.8 174.8 L328.3 176.8 L328.9 178.7 L329.4 180.6 L330.0 182.5 L330.5 184.5 L331.1 186.4 L331.6 188.3 L332.2 190.2 L332.7 192.1 L333.3 194.0 L333.9 196.0 L334.5 197.9 L335.2 199.8 L335.8 201.7 L336.4 203.6 L337.1 205.5 L337.7 207.3 L338.4 209.2 L339.0 211.1 L339.7 213.0 L340.3 214.9 L340.9 216.8 L341.6 218.7 L342.2 220.6 L342.8 222.5 L343.5 224.4 L344.2 226.3 L344.9 228.1 L345.6 230.0 L346.4 231.8 L347.3 233.6 L348.1 235.4 L349.1 237.2 L350.0 239.0 L351.0 240.7 L352.0 242.5 L353.0 244.2 L354.0 245.9 L355.1 247.6 L356.2 249.3 L357.2 250.9 L358.4 252.6 L359.5 254.3 L360.7 255.9 L361.9 257.5 L363.1 259.0 L364.4 260.6 L365.7 262.1 L367.0 263.6 L368.4 265.0 L369.8 266.4 L371.3 267.8 L372.7 269.2 L374.2 270.5 L375.8 271.8 L377.3 273.0 L378.9 274.2 L380.6 275.3 L382.3 276.4 L384.0 277.4 L385.8 278.4 L387.5 279.3 L389.3 280.2 L391.1 281.1 L392.9 282.0 L394.7 282.9 L396.5 283.7 L398.3 284.5 L400.2 285.3 L402.0 286.1 L403.8 287.0 L405.5 288.0 L407.0 289.2 L408.5 290.6 L410.0 291.9 L411.4 293.3 L412.9 294.7 L414.3 296.1 L415.6 297.6 L416.9 299.1 L418.1 300.7 L419.3 302.3 L420.4 304.0 L421.5 305.7 L422.5 307.4 L423.6 309.1 L424.6 310.8 L425.7 312.5 L426.7 314.2 L427.8 315.9 L428.8 317.6 L429.8 319.3 L430.8 321.0 L431.8 322.8 L432.9 324.4 L434.1 326.0 L435.5 327.4 L437.0 328.6 L438.7 329.6 L440.5 330.5 L442.3 331.4 L444.1 332.3 L445.9 333.2 L447.7 334.1 L449.5 335.0 L451.3 335.8 L453.1 336.6 L455.0 337.3 L456.9 337.9 L458.8 338.5 L460.7 339.0 L462.7 339.4 L464.7 339.7 L466.6 339.9 L468.6 340.1 L470.6 340.2 L472.6 340.2 L474.6 340.2 L476.6 340.3 L478.6 340.3 L480.6 340.3 L482.6 340.3 L484.6 340.3 L486.6 340.4 L488.6 340.4 L490.6 340.4 L492.6 340.4 L494.6 340.4 L496.6 340.4 L498.6 340.4 L500.6 340.4 L502.6 340.4 L504.6 340.4 L506.6 340.4 L508.6 340.4 L510.6 340.4 L512.6 340.4 L514.6 340.4 L516.6 340.4 L518.6 340.4 L520.6 340.4 L522.6 340.4 L524.6 340.4 L526.6 340.4 L528.6 340.4 L530.6 340.4 L532.6 340.4 L534.6 340.4 L536.6 340.4 L538.6 340.4 L540.6 340.4 L542.6 340.4 L544.6 340.4 L546.6 340.4 L548.6 340.4 L550.6 340.4 L552.6 340.4 L554.6 340.4 L556.6 340.4 L558.6 340.4 L560.6 340.4 L562.6 340.4 L564.6 340.4 L566.6 340.4 L568.6 340.4 L570.6 340.4 L572.6 340.4 L574.6 340.4 L576.6 340.4 L578.6 340.4 L580.6 340.4 L582.6 340.4 L584.6 340.4 L586.6 340.4 L588.6 340.4 L590.6 340.4 L592.6 340.4 L594.6 340.4 L596.6 340.4 L598.6 340.4 L600.6 340.4 L602.6 340.4 L604.6 340.4 L606.6 340.4 L608.6 340.4 L610.6 340.4 L612.6 340.4 L614.6 340.4 L616.6 340.4 L618.6 340.4 L620.6 340.4 L622.6 340.4 L624.6 340.4 L626.6 340.4 L628.6 340.4 L630.6 340.4 L632.6 340.4 L634.6 340.4 L636.6 340.4 L638.6 340.4 L640.6 340.4 L642.6 340.4 L644.6 340.4 L646.6 340.4 L648.6 340.4 L650.6 340.4 L652.6 340.4 L654.6 340.4 L656.6 340.4 L658.6 340.4 L660.6 340.4 L662.6 340.4 L664.6 340.4 L666.6 340.4 L668.6 340.4 L670.6 340.4 L672.6 340.4 L674.6 340.4 L676.6 340.4 L678.6 340.4 L680.6 340.4 L682.6 340.4 L684.6 340.4 L686.6 340.4 L688.6 340.4 L690.6 340.4 L692.6 340.4 L694.6 340.4 L696.6 340.4 L698.6 340.4 L700.6 340.4 L702.6 340.4 L704.6 340.4 L706.6 340.4 L708.6 340.4 L710.6 340.4 L712.6 340.4 L714.6 340.4 L716.6 340.4 L718.6 340.4 L720.6 340.4 L722.6 340.4 L724.6 340.4 L726.6 340.4 L728.6 340.4 L730.6 340.4 L732.6 340.4 L734.6 340.4 L736.6 340.4 L737.6 340.4" fill="none" stroke="#9BBB59" stroke-width="3.2" stroke-linejoin="round" stroke-linecap="round"/>
<path d="M116.0 150.2 L117.9 150.8 L119.8 151.5 L121.7 152.1 L123.6 152.7 L125.5 153.4 L127.4 154.0 L129.3 154.6 L131.2 155.3 L133.1 155.9 L135.0 156.5 L136.9 157.1 L138.8 157.7 L140.7 158.3 L142.6 158.9 L144.5 159.5 L146.5 159.9 L148.4 160.2 L150.4 160.3 L152.4 160.2 L154.4 160.0 L156.3 159.7 L158.3 159.3 L160.2 159.1 L162.2 159.2 L164.1 159.6 L166.0 160.3 L167.8 161.1 L169.5 162.0 L171.3 163.0 L173.0 163.9 L174.8 164.9 L176.5 165.9 L178.3 166.9 L180.0 167.9 L181.7 168.9 L183.5 169.8 L185.3 170.6 L187.2 171.2 L189.1 171.6 L191.1 171.9 L193.1 172.0 L195.1 172.0 L197.1 171.9 L199.1 171.7 L201.0 171.3 L202.9 170.7 L204.5 169.8 L205.9 168.5 L207.0 166.9 L207.9 165.1 L208.7 163.3 L209.5 161.4 L210.2 159.6 L210.9 157.7 L211.6 155.8 L212.4 154.0 L213.1 152.1 L213.8 150.2 L214.5 148.4 L215.2 146.5 L215.9 144.6 L216.6 142.8 L217.3 140.9 L218.0 139.0 L218.7 137.1 L219.3 135.2 L220.0 133.3 L220.7 131.5 L221.3 129.6 L222.0 127.7 L222.6 125.8 L223.3 123.9 L224.0 122.0 L224.6 120.1 L225.3 118.3 L226.1 116.4 L226.8 114.5 L227.6 112.7 L228.4 110.9 L229.2 109.0 L230.0 107.2 L230.9 105.4 L231.8 103.7 L232.7 101.9 L233.7 100.1 L234.7 98.4 L235.7 96.6 L236.7 94.9 L237.7 93.2 L238.8 91.5 L239.9 89.9 L241.1 88.3 L242.3 86.7 L243.6 85.1 L244.9 83.6 L246.2 82.1 L247.7 80.7 L249.2 79.4 L250.7 78.2 L252.4 77.2 L254.2 76.3 L256.0 75.5 L257.9 74.9 L259.9 74.5 L261.8 74.1 L263.8 73.9 L265.8 73.9 L267.8 73.8 L269.8 73.9 L271.8 74.1 L273.8 74.4 L275.7 74.9 L277.5 75.7 L279.2 76.7 L280.9 77.8 L282.5 79.0 L284.0 80.3 L285.5 81.6 L286.9 83.0 L288.3 84.4 L289.7 85.9 L291.0 87.3 L292.4 88.8 L293.6 90.4 L294.9 91.9 L296.1 93.5 L297.3 95.1 L298.5 96.7 L299.6 98.4 L300.7 100.1 L301.7 101.8 L302.7 103.5 L303.7 105.2 L304.7 107.0 L305.6 108.8 L306.5 110.5 L307.4 112.3 L308.3 114.1 L309.2 115.9 L310.0 117.7 L310.8 119.6 L311.7 121.4 L312.5 123.2 L313.3 125.0 L314.1 126.9 L314.8 128.7 L315.6 130.6 L316.3 132.4 L317.1 134.3 L317.8 136.2 L318.5 138.0 L319.2 139.9 L319.9 141.8 L320.6 143.6 L321.3 145.5 L322.0 147.4 L322.6 149.3 L323.3 151.2 L323.9 153.1 L324.6 155.0 L325.2 156.9 L325.8 158.8 L326.4 160.7 L327.0 162.6 L327.5 164.5 L328.0 166.5 L328.6 168.4 L329.1 170.3 L329.5 172.3 L330.0 174.2 L330.5 176.2 L330.9 178.1 L331.4 180.1 L331.8 182.0 L332.3 183.9 L332.8 185.9 L333.3 187.8 L333.8 189.8 L334.3 191.7 L334.9 193.6 L335.5 195.5 L336.1 197.4 L336.7 199.3 L337.4 201.2 L338.1 203.1 L338.8 204.9 L339.5 206.8 L340.2 208.7 L341.0 210.5 L341.7 212.4 L342.4 214.3 L343.1 216.1 L343.8 218.0 L344.6 219.9 L345.3 221.7 L346.1 223.6 L346.9 225.4 L347.6 227.3 L348.4 229.1 L349.2 230.9 L350.0 232.8 L350.8 234.6 L351.6 236.4 L352.5 238.2 L353.4 240.0 L354.3 241.8 L355.3 243.5 L356.3 245.3 L357.3 247.0 L358.4 248.7 L359.4 250.4 L360.6 252.0 L361.7 253.6 L363.0 255.2 L364.2 256.7 L365.6 258.2 L367.0 259.6 L368.5 261.0 L369.9 262.3 L371.5 263.6 L373.0 264.9 L374.6 266.1 L376.2 267.3 L377.8 268.5 L379.5 269.6 L381.2 270.6 L382.9 271.6 L384.7 272.6 L386.4 273.6 L388.2 274.5 L390.0 275.3 L391.9 276.0 L393.8 276.6 L395.7 277.2 L397.5 278.0 L399.3 278.9 L401.0 279.9 L402.6 281.1 L404.2 282.3 L405.6 283.7 L406.9 285.2 L408.2 286.7 L409.5 288.3 L410.8 289.7 L412.2 291.1 L413.6 292.5 L415.0 294.0 L416.3 295.5 L417.6 297.1 L418.7 298.7 L419.8 300.4 L420.9 302.0 L422.0 303.7 L423.0 305.5 L424.0 307.2 L425.1 308.9 L426.2 310.5 L427.3 312.2 L428.4 313.8 L429.7 315.4 L430.9 317.0 L432.2 318.5 L433.6 320.0 L435.0 321.4 L436.4 322.7 L438.0 323.9 L439.7 324.9 L441.5 325.7 L443.4 326.4 L445.3 327.0 L447.2 327.6 L449.1 328.3 L450.9 329.2 L452.6 330.1 L454.4 331.0 L456.2 331.8 L458.1 332.4 L460.0 332.9 L462.0 333.2 L464.0 333.5 L466.0 333.6 L468.0 333.8 L469.9 333.9 L471.9 334.0 L473.9 334.1 L475.9 334.1 L477.9 334.2 L479.9 334.3 L481.9 334.3 L483.9 334.4 L485.9 334.4 L487.9 334.4 L489.9 334.5 L491.9 334.5 L493.9 334.5 L495.9 334.6 L497.9 334.6 L499.9 334.6 L501.9 334.6 L503.9 334.6 L505.9 334.6 L507.9 334.6 L509.9 334.6 L511.9 334.6 L513.9 334.6 L515.9 334.6 L517.9 334.6 L519.9 334.6 L521.9 334.6 L523.9 334.6 L525.9 334.6 L527.9 334.6 L529.9 334.5 L531.9 334.5 L533.9 334.5 L535.9 334.5 L537.9 334.5 L539.9 334.5 L541.9 334.5 L543.9 334.5 L545.9 334.5 L547.9 334.5 L549.9 334.5 L551.9 334.5 L553.9 334.5 L555.9 334.5 L557.9 334.5 L559.9 334.5 L561.9 334.4 L563.9 334.4 L565.9 334.4 L567.9 334.4 L569.9 334.4 L571.9 334.4 L573.9 334.4 L575.9 334.4 L577.9 334.4 L579.9 334.4 L581.9 334.4 L583.9 334.4 L585.9 334.4 L587.9 334.4 L589.9 334.4 L591.9 334.4 L593.9 334.4 L595.9 334.3 L597.9 334.3 L599.9 334.3 L601.9 334.3 L603.9 334.3 L605.9 334.3 L607.9 334.3 L609.9 334.3 L611.9 334.3 L613.9 334.3 L615.9 334.3 L617.9 334.3 L619.9 334.3 L621.9 334.3 L623.9 334.2 L625.9 334.2 L627.9 334.2 L629.9 334.2 L631.9 334.2 L633.9 334.2 L635.9 334.2 L637.9 334.2 L639.9 334.2 L641.9 334.2 L643.9 334.2 L645.9 334.2 L647.9 334.2 L649.9 334.2 L651.9 334.2 L653.9 334.2 L655.9 334.2 L657.9 334.2 L659.9 334.2 L661.9 334.2 L663.9 334.2 L665.9 334.1 L667.9 334.1 L669.9 334.1 L671.9 334.1 L673.9 334.1 L675.9 334.1 L677.9 334.1 L679.9 334.1 L681.9 334.1 L683.9 334.1 L685.9 334.1 L687.9 334.1 L689.9 334.1 L691.9 334.1 L693.9 334.1 L695.9 334.1 L697.9 334.1 L699.9 334.1 L701.9 334.1 L703.9 334.1 L705.9 334.1 L707.9 334.1 L709.9 334.1 L711.9 334.1 L713.9 334.1 L715.9 334.1 L717.9 334.1 L719.9 334.1 L721.9 334.1 L723.9 334.1 L725.9 334.1 L727.9 334.1 L729.9 334.1 L731.9 334.1 L733.9 334.1 L735.9 334.1 L737.9 334.1" fill="none" stroke="#C0504D" stroke-width="3.2" stroke-linejoin="round" stroke-linecap="round"/>
<path d="M116.0 137.6 L117.9 138.3 L119.8 138.9 L121.7 139.6 L123.6 140.2 L125.5 140.9 L127.3 141.5 L129.2 142.2 L131.1 142.8 L133.0 143.5 L134.9 144.1 L136.8 144.8 L138.7 145.5 L140.6 146.1 L142.4 146.8 L144.3 147.5 L146.2 148.1 L148.1 148.8 L150.0 149.5 L151.8 150.2 L153.7 150.9 L155.6 151.6 L157.4 152.4 L159.3 153.1 L161.1 153.9 L163.0 154.7 L164.8 155.4 L166.7 156.2 L168.6 156.9 L170.4 157.6 L172.3 158.3 L174.2 159.0 L176.1 159.6 L178.0 160.2 L179.9 160.7 L181.9 161.1 L183.9 161.3 L185.8 161.4 L187.8 161.4 L189.8 161.4 L191.8 161.3 L193.8 161.2 L195.8 161.1 L197.8 160.9 L199.8 160.5 L201.6 160.0 L203.4 159.2 L205.0 158.0 L206.3 156.6 L207.4 154.9 L208.3 153.2 L209.2 151.4 L210.0 149.6 L210.8 147.7 L211.5 145.8 L212.1 144.0 L212.8 142.1 L213.4 140.2 L214.1 138.3 L214.7 136.4 L215.3 134.5 L216.0 132.6 L216.6 130.7 L217.2 128.8 L217.9 126.9 L218.5 125.0 L219.2 123.1 L219.8 121.2 L220.5 119.3 L221.2 117.5 L221.8 115.6 L222.5 113.7 L223.2 111.8 L223.9 109.9 L224.7 108.1 L225.4 106.2 L226.2 104.4 L227.1 102.6 L227.9 100.8 L228.8 99.0 L229.8 97.2 L230.7 95.5 L231.7 93.7 L232.6 92.0 L233.6 90.2 L234.6 88.5 L235.6 86.8 L236.7 85.1 L237.7 83.4 L238.8 81.7 L239.9 80.0 L241.1 78.4 L242.3 76.8 L243.6 75.3 L244.9 73.8 L246.3 72.4 L247.8 71.1 L249.4 69.8 L251.0 68.6 L252.7 67.5 L254.4 66.5 L256.2 65.6 L258.0 64.8 L259.8 64.1 L261.7 63.5 L263.7 63.1 L265.6 62.8 L267.6 62.7 L269.6 62.7 L271.6 62.9 L273.6 63.2 L275.5 63.6 L277.4 64.3 L279.2 65.1 L280.8 66.2 L282.4 67.4 L283.9 68.7 L285.3 70.1 L286.7 71.6 L288.1 73.1 L289.4 74.6 L290.7 76.1 L292.0 77.6 L293.2 79.1 L294.5 80.7 L295.7 82.3 L296.9 83.9 L298.1 85.5 L299.3 87.1 L300.4 88.8 L301.5 90.4 L302.6 92.1 L303.6 93.8 L304.6 95.5 L305.7 97.3 L306.7 99.0 L307.6 100.7 L308.6 102.5 L309.5 104.3 L310.4 106.1 L311.2 107.9 L312.1 109.7 L312.9 111.5 L313.6 113.4 L314.4 115.2 L315.1 117.1 L315.8 119.0 L316.5 120.9 L317.1 122.8 L317.8 124.6 L318.4 126.5 L319.1 128.4 L319.7 130.3 L320.4 132.2 L321.0 134.1 L321.7 136.0 L322.4 137.9 L323.0 139.8 L323.7 141.6 L324.4 143.5 L325.0 145.4 L325.7 147.3 L326.4 149.2 L327.1 151.1 L327.7 152.9 L328.4 154.8 L329.1 156.7 L329.7 158.6 L330.3 160.5 L331.0 162.4 L331.6 164.3 L332.2 166.2 L332.8 168.1 L333.3 170.0 L333.9 172.0 L334.5 173.9 L335.1 175.8 L335.7 177.7 L336.2 179.6 L336.8 181.5 L337.4 183.4 L338.0 185.4 L338.6 187.3 L339.2 189.2 L339.8 191.1 L340.4 193.0 L341.0 194.9 L341.6 196.8 L342.2 198.7 L342.8 200.6 L343.5 202.5 L344.1 204.4 L344.8 206.3 L345.5 208.2 L346.2 210.0 L346.9 211.9 L347.6 213.8 L348.3 215.6 L349.1 217.5 L349.9 219.3 L350.6 221.2 L351.4 223.0 L352.3 224.8 L353.1 226.6 L353.9 228.5 L354.8 230.2 L355.7 232.0 L356.7 233.8 L357.7 235.5 L358.8 237.2 L359.9 238.9 L361.0 240.5 L362.2 242.1 L363.4 243.7 L364.6 245.3 L365.9 246.8 L367.3 248.3 L368.7 249.7 L370.1 251.1 L371.5 252.5 L373.0 253.8 L374.6 255.1 L376.1 256.4 L377.7 257.6 L379.3 258.7 L381.0 259.8 L382.7 260.9 L384.4 261.9 L386.2 262.9 L387.9 263.8 L389.7 264.7 L391.5 265.7 L393.2 266.7 L394.9 267.8 L396.6 268.8 L398.3 269.8 L400.1 270.8 L401.9 271.6 L403.6 272.5 L405.4 273.5 L407.1 274.5 L408.8 275.5 L410.5 276.6 L412.2 277.7 L413.7 279.0 L415.2 280.3 L416.6 281.8 L417.8 283.3 L419.0 284.9 L420.1 286.6 L421.1 288.3 L422.1 290.0 L423.0 291.8 L423.8 293.6 L424.7 295.4 L425.6 297.2 L426.4 299.0 L427.3 300.8 L428.2 302.6 L429.2 304.4 L430.2 306.1 L431.3 307.8 L432.5 309.4 L433.8 310.8 L435.3 312.1 L436.9 313.2 L438.7 314.1 L440.5 314.7 L442.5 315.1 L444.4 315.4 L446.4 315.9 L448.3 316.5 L450.1 317.3 L451.9 318.2 L453.7 319.0 L455.5 319.8 L457.4 320.5 L459.3 321.1 L461.2 321.6 L463.2 321.9 L465.2 322.2 L467.2 322.4 L469.1 322.5 L471.1 322.6 L473.1 322.7 L475.1 322.7 L477.1 322.8 L479.1 322.8 L481.1 322.9 L483.1 322.9 L485.1 322.9 L487.1 322.9 L489.1 322.9 L491.1 323.0 L493.1 323.0 L495.1 323.0 L497.1 323.0 L499.1 323.0 L501.1 323.0 L503.1 323.0 L505.1 323.0 L507.1 323.0 L509.1 323.1 L511.1 323.1 L513.1 323.1 L515.1 323.1 L517.1 323.1 L519.1 323.1 L521.1 323.1 L523.1 323.1 L525.1 323.1 L527.1 323.1 L529.1 323.2 L531.1 323.2 L533.1 323.2 L535.1 323.2 L537.1 323.2 L539.1 323.2 L541.1 323.2 L543.1 323.2 L545.1 323.2 L547.1 323.2 L549.1 323.2 L551.1 323.2 L553.1 323.2 L555.1 323.3 L557.1 323.3 L559.1 323.3 L561.1 323.3 L563.1 323.3 L565.1 323.3 L567.1 323.3 L569.1 323.3 L571.1 323.3 L573.1 323.3 L575.1 323.3 L577.1 323.3 L579.1 323.3 L581.1 323.3 L583.1 323.3 L585.1 323.3 L587.1 323.3 L589.1 323.3 L591.1 323.3 L593.1 323.3 L595.1 323.3 L597.1 323.3 L599.1 323.3 L601.1 323.3 L603.1 323.3 L605.1 323.3 L607.1 323.3 L609.1 323.3 L611.1 323.3 L613.1 323.3 L615.1 323.3 L617.1 323.3 L619.1 323.3 L621.1 323.3 L623.1 323.3 L625.1 323.3 L627.1 323.3 L629.1 323.3 L631.1 323.3 L633.1 323.3 L635.1 323.3 L637.1 323.3 L639.1 323.3 L641.1 323.3 L643.1 323.3 L645.1 323.3 L647.1 323.3 L649.1 323.3 L651.1 323.3 L653.1 323.3 L655.1 323.2 L657.1 323.2 L659.1 323.2 L661.1 323.2 L663.1 323.2 L665.1 323.2 L667.1 323.2 L669.1 323.2 L671.1 323.2 L673.1 323.2 L675.1 323.1 L677.1 323.1 L679.1 323.1 L681.1 323.1 L683.1 323.1 L685.1 323.1 L687.1 323.1 L689.1 323.1 L691.1 323.1 L693.1 323.0 L695.1 323.0 L697.1 323.0 L699.1 323.0 L701.1 323.0 L703.1 323.0 L705.1 323.0 L707.1 323.0 L709.1 322.9 L711.1 322.9 L713.1 322.9 L715.1 322.9 L717.1 322.9 L719.1 322.9 L721.1 322.8 L723.1 322.8 L725.1 322.8 L727.1 322.8 L729.1 322.8 L731.1 322.8 L733.1 322.7 L735.1 322.7 L737.1 322.7 L737.6 322.7" fill="none" stroke="#4F81BD" stroke-width="3.2" stroke-linejoin="round" stroke-linecap="round"/>
<rect x="514" y="83.5" width="202" height="146" fill="#fff" stroke="#8a8a8a" stroke-width="1.3"/>
<line x1="520" y1="103.8" x2="578.7" y2="103.8" stroke="#4F81BD" stroke-width="3"/>
<text transform="translate(592.30 110.20) scale(1.120 1.000)" font-size="16.50" fill="#1a1a1a" font-weight="bold">Control</text>
<line x1="520" y1="126.2" x2="578.7" y2="126.2" stroke="#C0504D" stroke-width="3"/>
<text transform="translate(592.30 131.60) scale(1.120 1.000)" font-size="16.50" fill="#1a1a1a" font-weight="bold">Normal saline</text>
<line x1="520" y1="147.8" x2="578.7" y2="147.8" stroke="#9BBB59" stroke-width="3"/>
<text transform="translate(592.30 153.00) scale(1.120 1.000)" font-size="16.50" fill="#1a1a1a" font-weight="bold">pH 7.4</text>
<line x1="520" y1="174.3" x2="578.7" y2="174.3" stroke="#8064A2" stroke-width="3"/>
<text transform="translate(592.30 175.20) scale(1.120 1.000)" font-size="16.50" fill="#1a1a1a" font-weight="bold">pH 6.8</text>
<line x1="520" y1="193.9" x2="578.7" y2="193.9" stroke="#4BACC6" stroke-width="3"/>
<text transform="translate(592.30 196.60) scale(1.120 1.000)" font-size="16.50" fill="#1a1a1a" font-weight="bold">pH 4.5</text>
<line x1="520" y1="213.9" x2="578.7" y2="213.9" stroke="#F79646" stroke-width="3"/>
<text transform="translate(592.30 218.00) scale(1.120 1.000)" font-size="16.50" fill="#1a1a1a" font-weight="bold">pH 1.2</text>
<path d="M846.0 196.5 L847.9 197.0 L849.9 197.5 L851.8 198.0 L853.7 198.6 L855.7 199.1 L857.6 199.6 L859.5 200.1 L861.5 200.6 L863.4 201.1 L865.3 201.6 L867.3 202.1 L869.2 202.6 L871.1 203.1 L873.1 203.6 L875.0 204.1 L877.0 204.5 L878.9 205.0 L880.9 205.5 L882.8 205.9 L884.8 206.3 L886.7 206.8 L888.7 207.2 L890.6 207.6 L892.6 208.0 L894.6 208.4 L896.5 208.8 L898.5 209.2 L900.4 209.6 L902.4 210.0 L904.4 210.4 L906.3 210.7 L908.3 211.1 L910.3 211.5 L912.2 211.8 L914.2 212.2 L916.2 212.5 L918.1 212.9 L920.1 213.2 L922.1 213.6 L924.0 213.9 L926.0 214.3 L928.0 214.6 L930.0 214.9 L931.9 215.2 L933.9 215.5 L935.9 215.8 L937.9 216.0 L939.9 216.1 L941.9 216.1 L943.8 215.9 L945.7 215.4 L947.4 214.6 L949.2 213.6 L950.9 212.8 L952.8 212.0 L954.7 211.4 L956.5 210.6 L958.4 209.8 L960.1 208.9 L961.7 207.8 L963.3 206.5 L964.7 205.1 L966.0 203.6 L967.3 202.1 L968.4 200.4 L969.5 198.8 L970.6 197.1 L971.5 195.3 L972.4 193.5 L973.2 191.7 L974.0 189.9 L974.8 188.0 L975.5 186.1 L976.1 184.3 L976.8 182.4 L977.5 180.5 L978.1 178.6 L978.7 176.7 L979.3 174.8 L979.8 172.8 L980.4 170.9 L980.9 169.0 L981.4 167.1 L982.0 165.1 L982.5 163.2 L983.1 161.3 L983.7 159.4 L984.3 157.5 L985.0 155.6 L985.7 153.7 L986.5 151.9 L987.2 150.0 L988.0 148.2 L988.9 146.4 L989.7 144.6 L990.6 142.8 L991.5 141.0 L992.4 139.2 L993.4 137.5 L994.4 135.7 L995.3 134.0 L996.4 132.3 L997.4 130.5 L998.4 128.8 L999.5 127.2 L1000.6 125.5 L1001.7 123.8 L1002.9 122.2 L1004.1 120.6 L1005.3 119.0 L1006.5 117.4 L1007.8 115.9 L1009.1 114.4 L1010.4 112.9 L1011.8 111.4 L1013.1 109.9 L1014.5 108.5 L1015.9 107.0 L1017.2 105.6 L1018.6 104.1 L1019.9 102.6 L1021.3 101.1 L1022.5 99.6 L1023.8 98.0 L1025.1 96.5 L1026.3 94.9 L1027.6 93.4 L1029.0 91.9 L1030.3 90.4 L1031.7 89.0 L1033.1 87.6 L1034.5 86.2 L1035.9 84.8 L1037.4 83.4 L1038.8 82.0 L1040.3 80.6 L1041.7 79.3 L1043.2 77.9 L1044.7 76.6 L1046.3 75.3 L1047.9 74.1 L1049.5 73.0 L1051.2 71.9 L1052.9 70.9 L1054.7 70.0 L1056.5 69.1 L1058.3 68.3 L1060.1 67.5 L1062.0 66.7 L1063.8 65.9 L1065.7 65.2 L1067.6 64.5 L1069.5 63.8 L1071.3 63.2 L1073.2 62.5 L1075.1 61.9 L1077.1 61.4 L1079.0 60.9 L1081.0 60.5 L1082.9 60.1 L1084.9 59.8 L1086.9 59.6 L1088.9 59.5 L1090.9 59.5 L1092.9 59.6 L1094.8 59.8 L1096.8 60.0 L1098.8 60.2 L1100.8 60.5 L1102.7 60.9 L1104.5 61.6 L1106.1 62.7 L1107.6 64.0 L1108.8 65.5 L1110.1 67.1 L1111.2 68.8 L1112.3 70.4 L1113.4 72.1 L1114.5 73.8 L1115.6 75.4 L1116.7 77.1 L1117.8 78.8 L1118.9 80.5 L1120.0 82.1 L1121.1 83.8 L1122.1 85.5 L1123.2 87.2 L1124.2 88.9 L1125.2 90.7 L1126.1 92.4 L1127.0 94.2 L1127.9 96.0 L1128.7 97.9 L1129.5 99.7 L1130.2 101.5 L1131.0 103.4 L1131.6 105.3 L1132.3 107.2 L1132.9 109.1 L1133.5 111.0 L1134.0 112.9 L1134.5 114.9 L1135.0 116.8 L1135.4 118.7 L1135.9 120.7 L1136.2 122.7 L1136.6 124.6 L1137.0 126.6 L1137.3 128.6 L1137.6 130.5 L1137.9 132.5 L1138.2 134.5 L1138.5 136.5 L1138.8 138.5 L1139.1 140.4 L1139.4 142.4 L1139.6 144.4 L1139.9 146.4 L1140.2 148.4 L1140.4 150.3 L1140.7 152.3 L1141.0 154.3 L1141.2 156.3 L1141.5 158.3 L1141.8 160.3 L1142.0 162.2 L1142.3 164.2 L1142.6 166.2 L1142.9 168.2 L1143.1 170.2 L1143.4 172.1 L1143.6 174.1 L1143.9 176.1 L1144.2 178.1 L1144.4 180.1 L1144.7 182.1 L1144.9 184.0 L1145.2 186.0 L1145.4 188.0 L1145.6 190.0 L1145.9 192.0 L1146.1 194.0 L1146.4 196.0 L1146.6 197.9 L1146.9 199.9 L1147.1 201.9 L1147.3 203.9 L1147.5 205.9 L1147.7 207.9 L1147.9 209.9 L1148.2 211.9 L1148.4 213.8 L1148.6 215.8 L1148.8 217.8 L1149.0 219.8 L1149.2 221.8 L1149.4 223.8 L1149.6 225.8 L1149.9 227.8 L1150.1 229.8 L1150.4 231.7 L1150.6 233.7 L1150.9 235.7 L1151.2 237.7 L1151.4 239.7 L1151.7 241.6 L1152.0 243.6 L1152.3 245.6 L1152.6 247.6 L1152.9 249.5 L1153.3 251.5 L1153.8 253.4 L1154.4 255.3 L1155.2 257.2 L1156.1 258.9 L1157.3 260.5 L1158.6 262.0 L1160.0 263.3 L1161.6 264.5 L1163.3 265.6 L1165.0 266.6 L1166.8 267.6 L1168.5 268.6 L1170.3 269.5 L1172.1 270.3 L1174.0 271.0 L1175.8 271.8 L1177.6 272.7 L1179.4 273.6 L1181.1 274.6 L1182.9 275.5 L1184.6 276.5 L1186.4 277.5 L1188.1 278.5 L1189.8 279.5 L1191.6 280.5 L1193.3 281.5 L1195.0 282.5 L1196.8 283.5 L1198.5 284.5 L1200.2 285.5 L1201.9 286.5 L1203.7 287.5 L1205.4 288.6 L1207.1 289.6 L1208.8 290.6 L1210.6 291.6 L1212.3 292.6 L1214.0 293.6 L1215.8 294.6 L1217.5 295.6 L1219.2 296.6 L1220.9 297.6 L1222.7 298.6 L1224.4 299.6 L1226.1 300.6 L1227.8 301.7 L1229.6 302.7 L1231.3 303.7 L1233.0 304.8 L1234.7 305.8 L1236.4 306.9 L1238.0 308.0 L1239.7 309.1 L1241.4 310.2 L1243.0 311.3 L1244.7 312.5 L1246.3 313.6 L1248.0 314.7 L1249.6 315.8 L1251.3 316.9 L1253.0 318.0 L1254.7 319.1 L1256.4 320.1 L1258.1 321.1 L1259.9 322.1 L1261.6 323.1 L1263.4 324.1 L1265.1 325.0 L1266.9 325.9 L1268.7 326.8 L1270.5 327.7 L1272.3 328.6 L1274.1 329.4 L1275.9 330.2 L1277.8 330.9 L1279.7 331.5 L1281.6 332.1 L1283.5 332.7 L1285.5 333.2 L1287.4 333.7 L1289.3 334.1 L1291.3 334.5 L1293.3 335.0 L1295.2 335.4 L1297.2 335.8 L1299.1 336.3 L1301.0 336.9 L1302.9 337.5 L1304.8 338.2 L1306.6 338.9 L1308.5 339.5 L1310.5 339.9 L1312.5 340.2 L1314.4 340.4 L1316.4 340.6 L1318.4 340.7 L1320.4 340.7 L1322.4 340.8 L1324.4 340.8 L1326.4 340.8 L1328.4 340.8 L1330.4 340.8 L1332.4 340.8 L1334.4 340.8 L1336.4 340.8 L1338.4 340.8 L1340.4 340.8 L1342.4 340.8 L1344.4 340.8 L1346.4 340.8 L1348.4 340.8 L1350.4 340.8 L1352.4 340.8 L1354.4 340.8 L1356.4 340.8 L1358.4 340.8 L1360.4 340.8 L1362.4 340.8 L1364.4 340.8 L1366.4 340.8 L1368.4 340.8 L1370.4 340.8 L1372.4 340.8 L1374.4 340.8 L1376.4 340.8 L1378.4 340.8 L1380.4 340.8 L1382.4 340.8 L1384.4 340.8 L1386.4 340.8 L1388.4 340.8 L1390.4 340.8 L1392.4 340.8 L1394.4 340.8 L1396.4 340.8 L1398.4 340.8 L1400.4 340.8 L1402.4 340.8 L1404.4 340.8 L1406.4 340.8 L1408.4 340.8 L1410.4 340.8 L1412.4 340.8 L1414.4 340.8 L1416.4 340.8 L1418.4 340.8 L1420.4 340.8 L1422.4 340.8 L1424.4 340.8 L1426.4 340.8 L1428.4 340.8 L1430.4 340.8 L1432.4 340.8 L1434.4 340.8 L1436.4 340.8 L1438.4 340.8 L1440.4 340.8 L1442.4 340.8 L1444.4 340.8 L1446.4 340.8 L1448.4 340.8 L1450.4 340.8 L1452.4 340.8 L1454.4 340.8 L1456.4 340.8 L1458.4 340.8 L1460.4 340.8 L1462.4 340.8 L1464.4 340.8 L1464.9 340.8" fill="none" stroke="#C0504D" stroke-width="5.5" stroke-linejoin="round" stroke-linecap="butt"/>
<path d="M846.0 174.9 L848.0 175.3 L849.9 175.7 L851.9 176.1 L853.8 176.5 L855.8 176.9 L857.8 177.3 L859.7 177.7 L861.7 178.1 L863.6 178.5 L865.6 178.9 L867.6 179.3 L869.5 179.7 L871.5 180.1 L873.4 180.5 L875.4 180.9 L877.4 181.3 L879.3 181.7 L881.3 182.1 L883.2 182.5 L885.2 182.9 L887.2 183.3 L889.1 183.7 L891.1 184.1 L893.0 184.5 L895.0 184.9 L896.9 185.4 L898.9 185.8 L900.8 186.2 L902.8 186.6 L904.8 187.0 L906.7 187.4 L908.7 187.8 L910.7 188.2 L912.6 188.5 L914.6 188.9 L916.6 189.2 L918.5 189.5 L920.5 189.8 L922.5 190.0 L924.5 190.2 L926.5 190.4 L928.5 190.6 L930.5 190.7 L932.5 190.8 L934.5 190.9 L936.5 190.9 L938.5 191.0 L940.5 191.0 L942.5 191.0 L944.5 191.0 L946.5 190.9 L948.5 190.7 L950.4 190.6 L952.4 190.5 L954.4 190.3 L956.4 190.2 L958.4 190.0 L960.4 189.8 L962.4 189.4 L964.3 188.9 L966.1 188.1 L967.7 187.0 L969.2 185.8 L970.5 184.3 L971.7 182.7 L972.9 181.0 L973.9 179.4 L975.0 177.7 L976.0 176.0 L977.0 174.2 L978.0 172.5 L979.0 170.7 L979.9 169.0 L980.8 167.2 L981.8 165.4 L982.8 163.7 L983.8 162.0 L984.9 160.3 L986.0 158.7 L987.2 157.0 L988.4 155.5 L989.7 153.9 L991.0 152.4 L992.3 150.9 L993.6 149.4 L995.0 147.9 L996.4 146.5 L997.8 145.1 L999.2 143.7 L1000.7 142.3 L1002.2 141.0 L1003.7 139.6 L1005.2 138.3 L1006.7 137.0 L1008.2 135.7 L1009.6 134.3 L1011.1 133.0 L1012.5 131.6 L1013.9 130.1 L1015.3 128.7 L1016.7 127.2 L1018.1 125.8 L1019.6 124.5 L1021.1 123.3 L1022.8 122.1 L1024.5 121.1 L1026.2 120.1 L1028.0 119.2 L1029.8 118.3 L1031.6 117.5 L1033.4 116.6 L1035.3 115.9 L1037.2 115.3 L1039.1 114.8 L1041.1 114.4 L1043.0 114.0 L1045.0 113.7 L1047.0 113.5 L1049.0 113.4 L1051.0 113.4 L1053.0 113.4 L1055.0 113.6 L1057.0 113.8 L1058.9 114.1 L1060.9 114.5 L1062.8 115.1 L1064.7 115.7 L1066.5 116.5 L1068.3 117.3 L1070.1 118.3 L1071.8 119.2 L1073.6 120.3 L1075.3 121.3 L1076.9 122.4 L1078.6 123.5 L1080.3 124.6 L1081.9 125.8 L1083.5 126.9 L1085.2 128.0 L1086.9 129.1 L1088.5 130.2 L1090.2 131.4 L1091.8 132.5 L1093.5 133.6 L1095.2 134.7 L1096.8 135.8 L1098.5 136.9 L1100.1 138.1 L1101.7 139.3 L1103.1 140.7 L1104.5 142.1 L1105.8 143.6 L1107.1 145.2 L1108.3 146.7 L1109.5 148.3 L1110.8 149.9 L1111.9 151.5 L1113.1 153.1 L1114.3 154.8 L1115.4 156.4 L1116.5 158.1 L1117.7 159.7 L1118.8 161.4 L1119.8 163.1 L1120.9 164.8 L1122.0 166.5 L1123.0 168.2 L1124.1 169.9 L1125.1 171.6 L1126.1 173.3 L1127.1 175.0 L1128.1 176.8 L1129.1 178.5 L1130.1 180.3 L1131.0 182.0 L1132.0 183.8 L1132.9 185.5 L1133.9 187.3 L1134.8 189.1 L1135.7 190.9 L1136.5 192.7 L1137.4 194.5 L1138.2 196.3 L1139.0 198.2 L1139.7 200.0 L1140.5 201.9 L1141.3 203.7 L1142.0 205.6 L1142.7 207.4 L1143.5 209.3 L1144.3 211.1 L1145.0 213.0 L1145.8 214.8 L1146.7 216.6 L1147.5 218.4 L1148.4 220.2 L1149.3 222.0 L1150.2 223.8 L1151.1 225.6 L1152.0 227.3 L1153.0 229.1 L1154.0 230.8 L1155.1 232.5 L1156.2 234.1 L1157.4 235.7 L1158.7 237.3 L1160.0 238.8 L1161.4 240.2 L1162.9 241.5 L1164.4 242.8 L1166.0 244.1 L1167.5 245.3 L1169.1 246.5 L1170.8 247.7 L1172.4 248.8 L1174.1 250.0 L1175.7 251.1 L1177.4 252.2 L1179.0 253.3 L1180.7 254.5 L1182.3 255.6 L1184.0 256.7 L1185.7 257.7 L1187.4 258.8 L1189.1 259.8 L1190.8 260.9 L1192.5 261.9 L1194.2 263.0 L1196.0 264.0 L1197.7 265.0 L1199.4 266.0 L1201.1 267.1 L1202.8 268.1 L1204.5 269.2 L1206.2 270.3 L1207.8 271.4 L1209.5 272.5 L1211.1 273.6 L1212.9 274.6 L1214.7 275.4 L1216.5 276.1 L1218.5 276.5 L1220.4 276.7 L1222.4 276.7 L1224.4 276.5 L1226.4 276.4 L1228.4 276.2 L1230.4 276.2 L1232.4 276.2 L1234.4 276.4 L1236.3 276.8 L1238.3 277.3 L1240.2 277.9 L1242.1 278.5 L1243.9 279.3 L1245.7 280.1 L1247.5 281.0 L1249.3 281.9 L1251.0 283.0 L1252.6 284.1 L1254.2 285.4 L1255.6 286.7 L1257.0 288.1 L1258.4 289.6 L1259.7 291.1 L1261.0 292.7 L1262.2 294.2 L1263.5 295.8 L1264.7 297.3 L1266.0 298.8 L1267.4 300.3 L1268.7 301.8 L1270.1 303.3 L1271.5 304.7 L1272.9 306.1 L1274.4 307.3 L1276.1 308.4 L1277.9 309.3 L1279.8 309.9 L1281.7 310.4 L1283.7 310.7 L1285.6 311.0 L1287.6 311.2 L1289.6 311.4 L1291.6 311.6 L1293.6 311.8 L1295.6 312.1 L1297.5 312.4 L1299.5 312.8 L1301.4 313.3 L1303.4 313.8 L1305.3 314.4 L1307.2 314.9 L1309.1 315.5 L1311.1 315.9 L1313.0 316.4 L1315.0 316.7 L1317.0 317.0 L1319.0 317.1 L1321.0 317.3 L1323.0 317.4 L1325.0 317.4 L1327.0 317.4 L1329.0 317.4 L1331.0 317.4 L1333.0 317.4 L1335.0 317.4 L1337.0 317.4 L1339.0 317.4 L1341.0 317.4 L1343.0 317.4 L1345.0 317.4 L1347.0 317.4 L1349.0 317.4 L1351.0 317.4 L1353.0 317.4 L1355.0 317.4 L1357.0 317.4 L1359.0 317.4 L1361.0 317.4 L1363.0 317.4 L1365.0 317.4 L1367.0 317.4 L1369.0 317.4 L1371.0 317.4 L1373.0 317.4 L1375.0 317.4 L1377.0 317.4 L1379.0 317.4 L1381.0 317.4 L1383.0 317.4 L1385.0 317.4 L1387.0 317.4 L1389.0 317.4 L1391.0 317.4 L1393.0 317.4 L1395.0 317.4 L1397.0 317.4 L1399.0 317.4 L1401.0 317.4 L1403.0 317.4 L1405.0 317.4 L1407.0 317.4 L1409.0 317.4 L1411.0 317.4 L1413.0 317.4 L1415.0 317.4 L1417.0 317.4 L1419.0 317.4 L1421.0 317.4 L1423.0 317.4 L1425.0 317.4 L1427.0 317.4 L1429.0 317.4 L1431.0 317.4 L1433.0 317.4 L1435.0 317.4 L1437.0 317.4 L1439.0 317.4 L1441.0 317.4 L1443.0 317.4 L1445.0 317.4 L1447.0 317.4 L1449.0 317.4 L1451.0 317.4 L1453.0 317.4 L1455.0 317.4 L1457.0 317.4 L1459.0 317.4 L1461.0 317.4 L1463.0 317.4 L1465.0 317.4" fill="none" stroke="#4A7EC4" stroke-width="5.5" stroke-linejoin="round" stroke-linecap="butt"/>
<rect x="1185.5" y="51" width="201" height="63" fill="#fff" stroke="#9a9a9a" stroke-width="1.3"/>
<line x1="1198" y1="72.8" x2="1279" y2="72.8" stroke="#4A7EC4" stroke-width="6"/>
<line x1="1198" y1="96" x2="1279" y2="96" stroke="#C0504D" stroke-width="6"/>
<line x1="1375" y1="111.3" x2="1381" y2="111.3" stroke="#555" stroke-width="1.2"/>
<line x1="1470.5" y1="500.5" x2="1475.5" y2="500.5" stroke="#222" stroke-width="1.5"/>
<text transform="translate(1293.00 77.00) scale(1.140 1.000)" font-size="24.00" fill="#111" font-weight="bold">AgNPs</text>
<text transform="translate(1292.00 105.00) scale(1.140 1.000)" font-size="24.00" fill="#111" font-weight="bold">AgNCs</text>
</svg></body></html>
